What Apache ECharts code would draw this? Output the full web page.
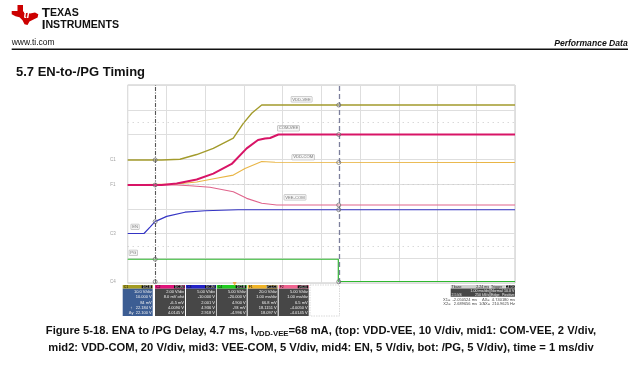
<!DOCTYPE html>
<html><head><meta charset="utf-8">
<script src="https://cdn.jsdelivr.net/npm/echarts@6/dist/echarts.min.js"></script>
<style>html,body{margin:0;padding:0;background:#fff}#c{width:640px;height:365px}</style>
</head><body><div id="c"></div><script>
// ---------- data (time in ms, amplitude in screen divisions) ----------
const tMin = -2.76, tMax = 7.24;           // 1 ms/div, Tbase delay 2.24 ms
const c1T   = [-2.76,-1.882,-1.41,-0.978,-0.550,-0.033,0.225,0.449,0.700,7.24];
const c1Y   = [0.97,0.97,1.00,1.19,1.44,1.85,2.45,2.87,3.19,3.19];          // VDD-VEE
const c2T   = [-2.76,-1.882,-1.495,-0.978,-0.550,-0.075,0.312,0.604,0.785,0.917,1.131,7.24];
const c2Y   = [-0.04,-0.04,0.02,0.18,0.42,0.81,1.44,1.78,1.84,1.86,2.0,2.0];  // COM-VEE
const f1T   = [-2.76,-1.495,-0.978,-0.506,-0.033,0.269,0.700,1.043,7.24];
const f1Y   = [-0.03,0.0,0.08,0.22,0.36,0.63,0.91,0.88,0.87];                  // VDD-COM
const f2T   = [-2.76,-1.495,-1.151,-0.635,-0.033,0.312,0.700,1.087,7.24];
const f2Y   = [-0.04,-0.04,-0.07,-0.13,-0.31,-0.58,-0.78,-0.85,-0.85];         // VEE-COM
const c3T   = [-2.76,-2.339,-2.184,-2.055,-1.753,-1.281,-0.764,0.088,7.24];
const c3Y   = [-2.0,-2.0,-1.74,-1.52,-1.31,-1.14,-1.08,-1.04,-1.04];           // EN
const c4T   = [-2.76,2.678,2.678,7.24];
const c4Y   = [-3.04,-3.04,-3.94,-3.94];                                      // /PG
const cursorX = [-2.050524, 2.689656];
const cursorMarkT = [-2.050524,-2.050524,-2.050524,-2.050524,-2.050524,2.689656,2.689656,2.689656,2.689656,2.689656,2.689656];
const cursorMarkY = [0.97,-0.04,-1.52,-3.04,-3.95,3.19,2.0,0.87,-0.85,-1.04,-3.95];
const traceNames  = ['VDD-VEE','COM-VEE','VDD-COM','VEE-COM','EN','PG'];
const traceLabelT = [1.73,1.39,1.77,1.56,-2.57,-2.615];
const traceLabelY = [3.42,2.25,1.08,-0.54,-1.73,-2.78];
const chanMarks   = ['C1','F1','C3','C4'];
const chanMarkY   = [0.97,-0.04,-2.0,-3.96];
const colors = {c1:'#a39b2c', c2:'#d81466', c3:'#3434c4', c4:'#2fb82f', f1:'#e9b545', f2:'#e0648c'};

const zip = (a,b) => a.map((v,i)=>[v,b[i]]);

// ---------- bottom info boxes ----------
const boxes = [
 {x:122.7, name:'C1', hc:'#a49c22', bc:'#3c5d93', badge:'DC1M', lines:['10.0 V/div','10.000 V','84 mV','\u2191   22.184 V','\u0394y  22.100 V']},
 {x:155.0, name:'C2', hc:'#e0147a', bc:'#474747', badge:'DC1M', lines:['2.00 V/div','8.0 mV ofst','-6.5 mV','4.0090 V','4.0145 V']},
 {x:186.0, name:'C3', hc:'#2424c8', bc:'#474747', badge:'DC1M', lines:['5.00 V/div','-10.000 V','2.001 V','4.936 V','2.918 V']},
 {x:216.7, name:'C4', hc:'#22cc22', bc:'#474747', badge:'DC1M', lines:['5.00 V/div','-20.000 V','4.900 V','-93 mV','-4.996 V']},
 {x:247.7, name:'F1', hc:'#f0b428', bc:'#474747', badge:'z(C1-C3)', lines:['20.0 V/div','1.00 ms/div','66.8 mV','18.1151 V','18.097 V']},
 {x:278.7, name:'F2', hc:'#f06490', bc:'#474747', badge:'z(C3)', lines:['5.00 V/div','1.00 ms/div','6.5 mV','-4.0050 V','-4.0145 V']}
];
const boxW = 30, boxTop = 285, headH = 3.7, boxBot = 316;
const g = [];
boxes.forEach(b=>{
  g.push({type:'rect', shape:{x:b.x,y:boxTop,width:boxW,height:headH}, style:{fill:b.hc}});
  g.push({type:'rect', shape:{x:b.x+boxW-11,y:boxTop+0.4,width:10.5,height:headH-0.8}, style:{fill:'#111'}});
  g.push({type:'text', style:{x:b.x+1,y:boxTop+headH/2,text:b.name,font:'3.5px Liberation Sans',fill:'#111',textVerticalAlign:'middle'}});
  g.push({type:'text', style:{x:b.x+boxW-5.7,y:boxTop+headH/2,text:b.badge,font:'3px Liberation Sans',fill:'#ddd',textAlign:'center',textVerticalAlign:'middle'}});
  g.push({type:'rect', shape:{x:b.x,y:boxTop+headH,width:boxW,height:boxBot-boxTop-headH}, style:{fill:b.bc}});
  b.lines.forEach((l,i)=>{
    g.push({type:'text', style:{x:b.x+boxW-1,y:boxTop+headH+3+i*5.4,text:l,font:'4px Liberation Sans',fill:'#f0f0f0',textAlign:'right',textVerticalAlign:'middle'}});
  });
});
g.push({type:'rect', shape:{x:310,y:boxTop,width:29.5,height:boxBot-boxTop}, style:{fill:'#fff',stroke:'#cfcfcf',lineWidth:0.8,lineDash:[1.5,1]}});
// timebase / trigger
g.push({type:'rect', shape:{x:450.7,y:285,width:39,height:3.5}, style:{fill:'#cfcfcf'}});
g.push({type:'rect', shape:{x:450.7,y:288.5,width:39,height:8.2}, style:{fill:'#474747'}});
g.push({type:'rect', shape:{x:490.3,y:285,width:24.7,height:3.5}, style:{fill:'#cfcfcf'}});
g.push({type:'rect', shape:{x:506,y:285.3,width:8.8,height:3}, style:{fill:'#111'}});
g.push({type:'rect', shape:{x:490.3,y:288.5,width:24.7,height:8.2}, style:{fill:'#474747'}});
const smallTxt = (x,y,t,c,al)=>g.push({type:'text', style:{x:x,y:y,text:t,font:'3.6px Liberation Sans',fill:c,textAlign:al||'left',textVerticalAlign:'middle'}});
smallTxt(451.5,286.8,'Tbase','#222'); smallTxt(489,286.8,'2.24 ms','#222','right');
smallTxt(489,290.5,'1.00 ms/div','#eee','right'); smallTxt(451.5,294.6,'2.5 kS','#eee'); smallTxt(489,294.6,'250 kS/s','#eee','right');
smallTxt(491,286.8,'Trigger','#222'); smallTxt(510.4,286.8,'C4 DC','#eee','center');
smallTxt(491,290.5,'Normal','#eee'); smallTxt(514.5,290.5,'10.0 V','#eee','right');
smallTxt(491,294.6,'Edge','#eee'); smallTxt(514.5,294.6,'Positive','#eee','right');
const curTxt = (x,y,t,al)=>g.push({type:'text', style:{x:x,y:y,text:t,font:'4px Liberation Sans',fill:'#444',textAlign:al,textVerticalAlign:'middle'}});
curTxt(477,300,'X1=  -2.050524 ms','right'); curTxt(515,300,'\u0394X=  4.740180 ms','right');
curTxt(477,304,'X2=   2.689656 ms','right'); curTxt(515,304,'1/\u0394X=  210.9625 Hz','right');

// ---------- page header ----------
g.push({type:'polygon', shape:{points:[[17.5,5],[23,5],[23,11.5],[26,12.5],[30,13.6],[35,12.6],[38.3,14.2],[37.6,17.5],[33.5,19.5],[29.5,21.6],[27.5,25],[24.5,24.2],[22.5,20.2],[19.5,17.2],[15.5,16.2],[11.7,14.2],[11.7,11],[17.5,11]]}, style:{fill:'#cc0000'}});
g.push({type:'text', style:{x:26.5,y:15.5,text:'ti',font:'italic bold 10px Liberation Sans',fill:'#fff',textAlign:'center',textVerticalAlign:'middle'}});
g.push({type:'text', style:{x:41.7,y:20,text:'{a|T}{b|EXAS}',textVerticalAlign:'bottom',rich:{a:{font:'bold 13.5px Liberation Sans',fill:'#111'},b:{font:'bold 10.6px Liberation Sans',fill:'#111'}}}});
g.push({type:'text', style:{x:41.7,y:32.2,text:'{a|I}{b|NSTRUMENTS}',textVerticalAlign:'bottom',rich:{a:{font:'bold 13.5px Liberation Sans',fill:'#111'},b:{font:'bold 10.6px Liberation Sans',fill:'#111'}}}});
g.push({type:'text', style:{x:11.7,y:42.3,text:'www.ti.com',font:'8.5px Liberation Sans',fill:'#111',textVerticalAlign:'middle'}});
g.push({type:'rect', shape:{x:11.7,y:48.6,width:616.3,height:1.3}, style:{fill:'#111'}});
g.push({type:'text', style:{x:627.7,y:43.7,text:'Performance Data',font:'italic bold 8.6px Liberation Sans',fill:'#111',textAlign:'right',textVerticalAlign:'middle'}});
g.push({type:'text', style:{x:16,y:72.3,text:'5.7 EN-to-/PG Timing',font:'bold 13px Liberation Sans',fill:'#111',textVerticalAlign:'middle'}});
// caption
g.push({type:'text', style:{x:321,y:331,textAlign:'center',textVerticalAlign:'middle',
  text:'{n|Figure 5-18. ENA to /PG Delay, 4.7 ms, I}{s|VDD-VEE}{n|=68 mA, (top: VDD-VEE, 10 V/div, mid1: COM-VEE, 2 V/div,}',
  rich:{n:{font:'bold 11.2px Liberation Sans',fill:'#111'}, s:{font:'bold 7.8px Liberation Sans',fill:'#111',padding:[5,0,0,0]}}}});
g.push({type:'text', style:{x:321,y:347.5,textAlign:'center',textVerticalAlign:'middle',
  text:'mid2: VDD-COM, 20 V/div, mid3: VEE-COM, 5 V/div, mid4: EN, 5 V/div, bot: /PG, 5 V/div), time = 1 ms/div',
  font:'bold 11.2px Liberation Sans',fill:'#111'}});

// ---------- chart ----------
const chart = echarts.init(document.getElementById('c'), null, {renderer:'canvas'});
const lineS = (name,t,y,color,w,z)=>({name:name,type:'line',xAxisIndex:1,data:zip(t,y),showSymbol:false,symbol:'none',
  lineStyle:{color:color,width:w},z:z,animation:false});
chart.setOption({
  animation:false,
  grid:{left:127.7,top:85,width:387.3,height:198,show:true,borderColor:'#c4c4c4',borderWidth:1,backgroundColor:'#fff'},
  xAxis:[
    {type:'value',min:0,max:10,interval:1,axisLine:{show:false},axisTick:{show:false},axisLabel:{show:false},splitLine:{show:true,lineStyle:{color:'#dedede',width:1}}},
    {type:'value',min:tMin,max:tMax,show:false}
  ],
  yAxis:[{type:'value',min:-4,max:4,interval:1,axisLine:{show:false},axisTick:{show:false},axisLabel:{show:false},splitLine:{show:true,lineStyle:{color:'#dedede',width:1}}}],
  graphic:g,
  series:[
    {type:'line',xAxisIndex:1,data:[],markLine:{silent:true,symbol:'none',label:{show:false},animation:false,
      data:[{yAxis:2.5,lineStyle:{color:'#c8c8c8',type:[1,4],width:1}},{yAxis:-2.5,lineStyle:{color:'#c8c8c8',type:[1,4],width:1}},
            {yAxis:0,lineStyle:{color:'#c8c8c8',type:[1,4],width:1}}]}},
    lineS('C4 /PG',c4T,c4Y,colors.c4,1.2,3),
    lineS('C3 EN',c3T,c3Y,colors.c3,1.2,3),
    lineS('F2 VEE-COM',f2T,f2Y,colors.f2,1.1,3),
    lineS('F1 VDD-COM',f1T,f1Y,colors.f1,1.1,3),
    lineS('C1 VDD-VEE',c1T,c1Y,colors.c1,1.4,4),
    lineS('C2 COM-VEE',c2T,c2Y,colors.c2,2,5),
    {type:'line',xAxisIndex:1,data:[],z:6,markLine:{silent:true,symbol:'none',label:{show:false},animation:false,
      data:[{xAxis:cursorX[0],lineStyle:{color:'#555',type:[4,1.5,1,1.5],width:1.1}},
            {xAxis:cursorX[1],lineStyle:{color:'#7c7f9c',type:[5,3],width:1.3}}]}},
    {type:'scatter',xAxisIndex:1,data:zip(cursorMarkT,cursorMarkY),symbol:'circle',symbolSize:4,z:7,clip:false,
      itemStyle:{color:'rgba(255,255,255,0.2)',borderColor:'#666',borderWidth:0.9}},
    {type:'scatter',xAxisIndex:1,data:traceNames.map((n,i)=>[traceLabelT[i],traceLabelY[i],n]),symbolSize:0,z:8,
      label:{show:true,position:'inside',formatter:p=>p.data[2],fontSize:4.2,color:'#555',backgroundColor:'#f6f6f6',borderColor:'#9a9a9a',borderWidth:0.5,padding:[0.5,1]}},
    {type:'scatter',xAxisIndex:1,data:chanMarks.map((n,i)=>[-3.14,chanMarkY[i],n]),symbolSize:0,z:8,clip:false,
      label:{show:true,position:'inside',formatter:p=>p.data[2],fontSize:4.5,color:'#888'}},
    {type:'scatter',xAxisIndex:1,data:[[0,-4.04]],symbol:'triangle',symbolRotate:180,symbolSize:4,clip:false,z:9,itemStyle:{color:'#f0a020'}}
  ]
});
</script></body></html>
